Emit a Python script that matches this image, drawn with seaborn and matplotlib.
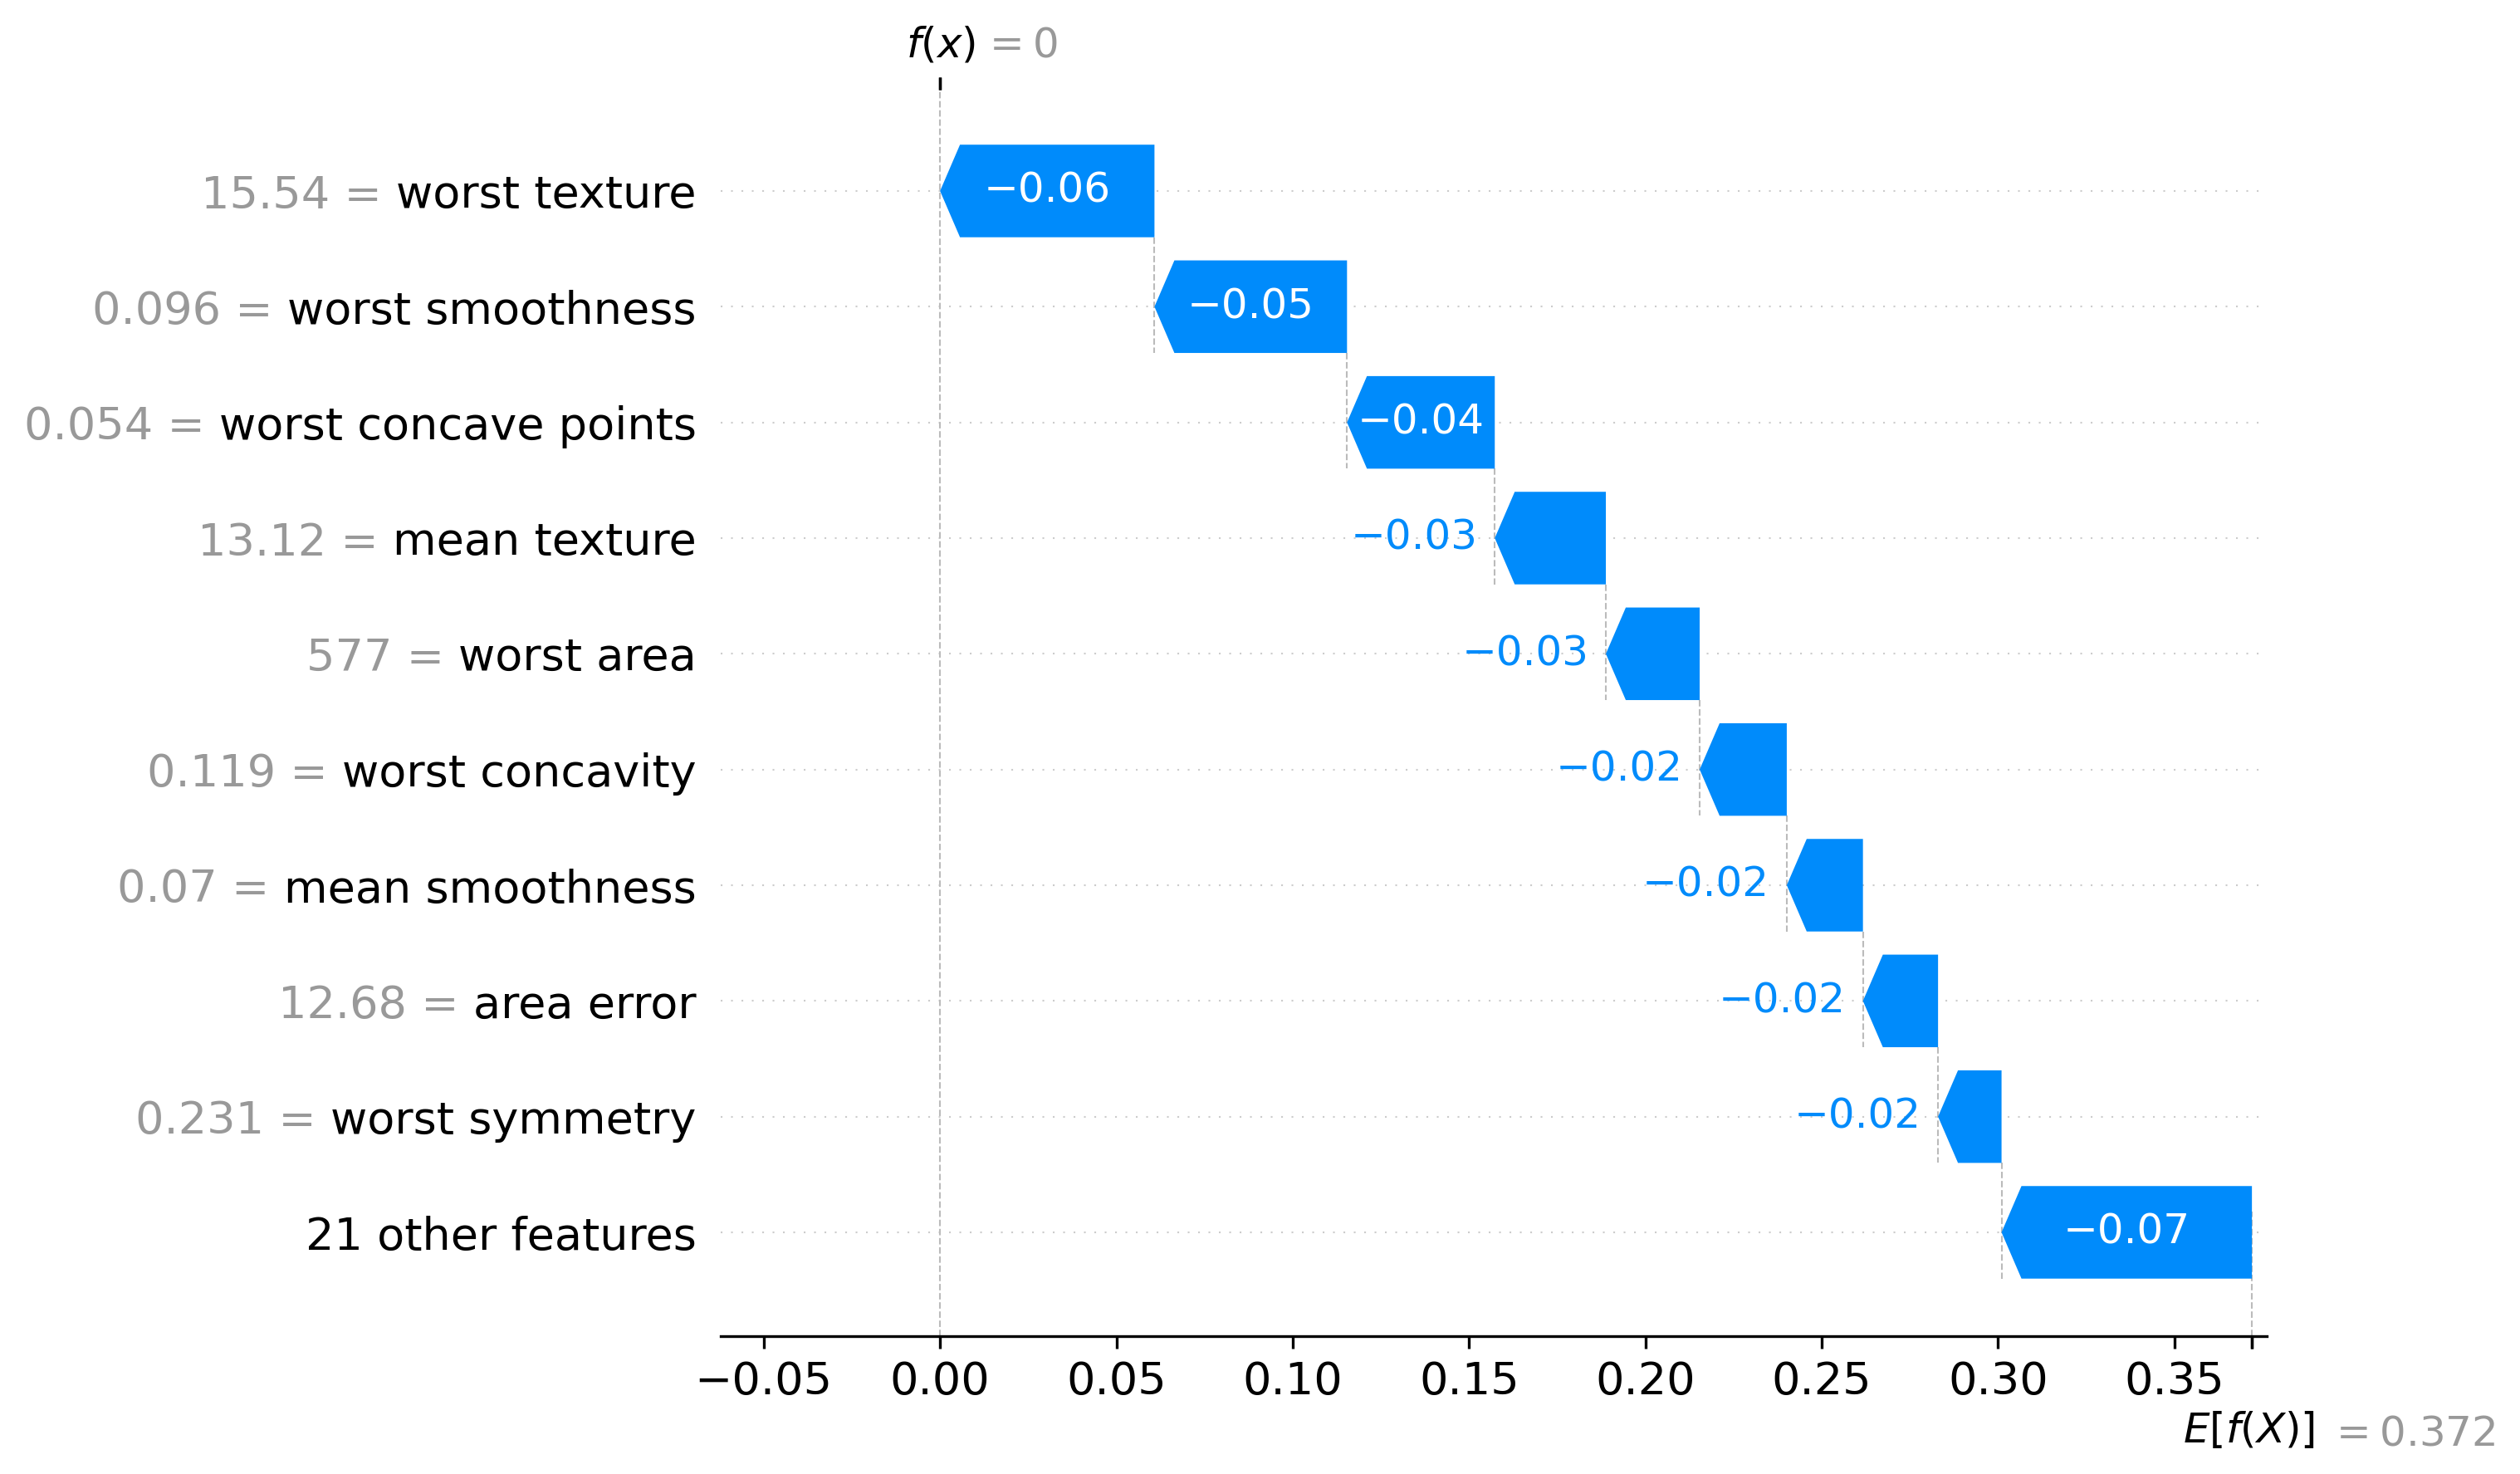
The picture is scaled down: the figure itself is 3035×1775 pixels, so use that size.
import numpy as np
import matplotlib
matplotlib.use("Agg")
import matplotlib.pyplot as plt
import matplotlib.transforms as mtransforms
import seaborn as sns

# waterfall data (top row first)
features = ["worst texture", "worst smoothness", "worst concave points", "mean texture",
            "worst area", "worst concavity", "mean smoothness", "area error",
            "worst symmetry", "21 other features"]
feature_values = ["15.54", "0.096", "0.054", "13.12", "577", "0.119", "0.07", "12.68", "0.231", None]
shap_values = [-0.0608, -0.0546, -0.0419, -0.0315, -0.0266, -0.0247, -0.0216, -0.0213, -0.0180, -0.0710]
base_value = 0.372

BLUE = "#008bfb"
GRAY = "#999999"


def fmt(v, f):
    s = f % v
    if "." in s:
        s = s.rstrip("0").rstrip(".")
    if s in ("-0", "+0"):
        s = "0"
    return s.replace("-", "\u2212")


sns.set_theme(style="ticks", rc={
    "text.color": "black", "axes.edgecolor": "black", "axes.labelcolor": "black",
    "xtick.color": "black", "ytick.color": "black",
    "axes.linewidth": 0.8, "xtick.major.size": 3.5, "xtick.major.width": 0.8,
    "xtick.major.pad": 3.5, "ytick.major.size": 3.5,
})
plt.rcParams["font.family"] = ["DejaVu Sans"]
plt.rcParams["mathtext.fontset"] = "dejavusans"

fig = plt.figure(figsize=(10.12, 5.9167), dpi=300)
ax = fig.add_axes([0.2859, 0.0937, 0.8992 - 0.2859, 0.9392 - 0.0937])

n = len(features)
rows = np.arange(n)
vals = np.array(shap_values)
ends = base_value + np.cumsum(vals[::-1])[::-1]   # arrow tip of each row
starts = ends - vals                               # arrow tail of each row
fx = ends[0]

ax.set_xlim(-0.0622, 0.3762)
ax.set_ylim(9.895, -0.876)

# scale for the arrow head (0.08 inch, like shap)
px_per_unit = ax.transData.transform((1, 0))[0] - ax.transData.transform((0, 0))[0]
hl = 0.08 * fig.dpi / px_per_unit
bw = 0.8

# background guides
for i in rows:
    ax.axhline(i, color="#cccccc", lw=0.5, dashes=(1, 5), zorder=-1)
for i in range(n - 1):
    ax.plot([starts[i], starts[i]], [i + bw / 2, i + 1 + bw / 2],
            color="#bbbbbb", ls="--", lw=0.5, zorder=-1)
ax.axvline(base_value, 0, 1 / n, color="#bbbbbb", ls="--", lw=0.5, zorder=-1)
ax.axvline(fx, 0, 1, color="#bbbbbb", ls="--", lw=0.5, zorder=-1)

# y labels: black feature names as ticks
ax.set_yticks(rows)
ax.set_yticklabels(features, fontsize=13)
ax.tick_params(axis="y", length=0, pad=7)
ax.tick_params(axis="x", labelsize=13)
ax.xaxis.set_major_formatter(matplotlib.ticker.FuncFormatter(lambda x, p: f"{x:.2f}".replace("-", "\u2212")))
sns.despine(ax=ax, left=True, top=True, right=True)

fig.canvas.draw()
renderer = fig.canvas.get_renderer()

for i in rows:
    s, e, v = starts[i], ends[i], vals[i]
    w = abs(v)
    h = min(hl, w)
    d = np.sign(v) if v != 0 else 1
    xs = [s, s, e - d * h, e, e - d * h]
    ys = [i - bw / 2, i + bw / 2, i + bw / 2, i, i - bw / 2]
    ax.fill(xs, ys, color=BLUE, lw=0, zorder=2)

    label = fmt(v, "%+0.02f")
    txt = ax.text((s + e) / 2, i, label, ha="center", va="center",
                  color="white", fontsize=12, zorder=3)
    tw = txt.get_window_extent(renderer=renderer).width
    if tw > w * px_per_unit:
        # does not fit: put it beyond the arrow tip
        txt.remove()
        ax.annotate(label, (e, i), xytext=(5 * d, 0), textcoords="offset points",
                    ha="right" if d < 0 else "left", va="center",
                    color=BLUE, fontsize=12, zorder=3)

# gray "value =" in front of each feature name
space_px = 0.318 * 13 * fig.dpi / 72
inv = ax.transAxes.inverted()
for t, fv, i in zip(ax.yaxis.get_majorticklabels(), feature_values, rows):
    if fv is None:
        continue
    x0 = t.get_window_extent(renderer=renderer).x0 - space_px
    xa = inv.transform((x0, 0))[0]
    ax.text(xa, i, f"{fv} =", transform=ax.get_yaxis_transform(), ha="right",
            va="center_baseline", fontsize=13, color=GRAY, clip_on=False)

# E[f(X)] tick at the bottom
ax2 = ax.twiny()
ax2.set_xlim(ax.get_xlim())
ax2.xaxis.set_ticks_position("bottom")
ax2.set_xticks([base_value, base_value + 1e-8])
ax2.set_xticklabels(["$E[f(X)]$", "$ = " + fmt(base_value, "%0.03f") + "$"], fontsize=12, ha="left")
ax2.tick_params(axis="x", pad=17.9)
for sp in ax2.spines.values():
    sp.set_visible(False)
tl = ax2.xaxis.get_majorticklabels()
tl[0].set_transform(tl[0].get_transform() + mtransforms.ScaledTranslation(-20 / 72., 0, fig.dpi_scale_trans))
tl[1].set_transform(tl[1].get_transform() + mtransforms.ScaledTranslation(22 / 72., -1 / 72., fig.dpi_scale_trans))
tl[1].set_color(GRAY)

# f(x) tick at the top
ax3 = ax.twiny()
ax3.set_xlim(ax.get_xlim())
ax3.set_xticks([fx, fx + 1e-8])
ax3.set_xticklabels(["$f(x)$", "$ = " + fmt(fx, "%0.03f") + "$"], fontsize=12, ha="left")
for sp in ax3.spines.values():
    sp.set_visible(False)
tl = ax3.xaxis.get_majorticklabels()
tl[0].set_transform(tl[0].get_transform() + mtransforms.ScaledTranslation(-10 / 72., 0, fig.dpi_scale_trans))
tl[1].set_transform(tl[1].get_transform() + mtransforms.ScaledTranslation(12 / 72., 0, fig.dpi_scale_trans))
tl[1].set_color(GRAY)

fig.savefig("out.png", dpi=300)
